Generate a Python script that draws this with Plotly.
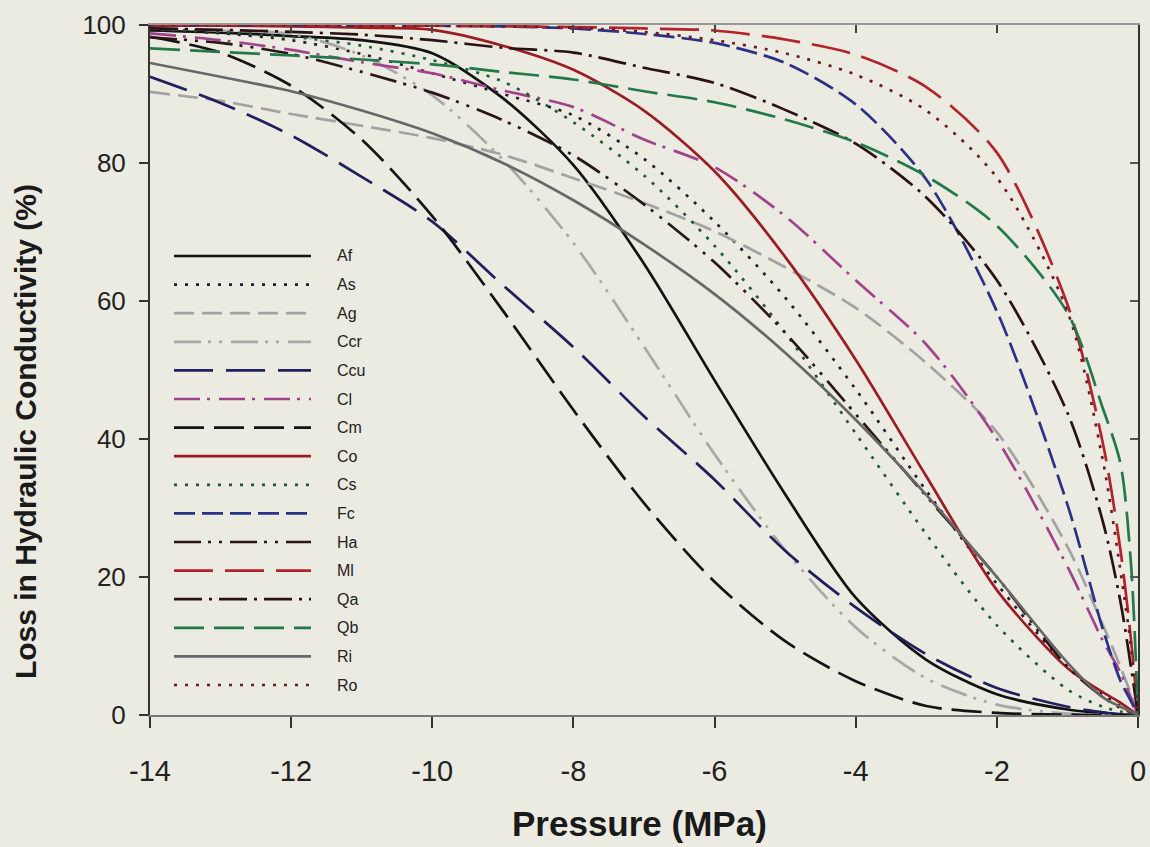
import plotly.graph_objects as go

# Pressure (MPa) at which values were read
pressure = [-14, -13, -12, -11, -10, -9, -8, -7, -6, -5, -4, -3, -2, -1, -0.5, -0.25, -0.1, 0]

species = ["Af", "As", "Ag", "Ccr", "Ccu", "Cl", "Cm", "Co", "Cs", "Fc", "Ha", "Ml", "Qa", "Qb", "Ri", "Ro"]

Af = [99.2, 98.9, 98.4, 97.8, 95.9, 89.4, 79.7, 65.4, 48.5, 32.0, 17.0, 8.0, 3.0, 0.8, 0.3, 0.1, 0.05, 0]
As = [99.3, 98.8, 97.8, 95.8, 93.0, 90.0, 86.9, 80.6, 71.5, 60.5, 47.2, 32.5, 19.0, 7.0, 3.0, 1.3, 0.5, 0]
Ag = [90.3, 89.0, 87.1, 85.4, 83.6, 81.2, 77.8, 74.2, 70.1, 64.9, 59.0, 51.0, 41.0, 24.4, 13.1, 7.0, 3.0, 0]
Ccr = [99.5, 99.2, 98.7, 95.6, 89.8, 80.5, 68.4, 53.4, 37.8, 23.9, 12.7, 5.3, 1.5, 0.2, 0.05, 0.0, 0.0, 0]
Ccu = [92.5, 88.7, 84.0, 78.0, 71.5, 62.3, 53.3, 43.3, 34.1, 23.8, 15.6, 8.8, 3.9, 1.2, 0.4, 0.1, 0.02, 0]
Cl = [98.8, 97.8, 96.4, 94.6, 93.0, 90.5, 88.1, 83.4, 79.4, 72.3, 63.0, 53.7, 40.0, 21.5, 10.8, 6.2, 2.5, 0]
Cm = [98.3, 96.0, 91.2, 83.4, 72.3, 58.6, 44.2, 30.7, 19.3, 10.7, 4.9, 1.3, 0.3, 0.05, 0.0, 0.0, 0.0, 0]
Co = [99.9, 99.9, 99.8, 99.6, 99.3, 97.0, 93.5, 87.6, 78.8, 66.4, 51.5, 34.6, 18.1, 6.8, 3.3, 1.8, 0.7, 0]
Cs = [99.5, 99.0, 98.3, 97.0, 94.9, 91.8, 85.9, 78.2, 68.0, 55.4, 40.8, 26.2, 13.0, 3.7, 1.2, 0.5, 0.2, 0]
Fc = [100, 100, 100, 99.9, 99.9, 99.8, 99.5, 98.7, 97.4, 94.5, 88.5, 77.6, 58.5, 30.5, 12.5, 5.0, 2.0, 0]
Ha = [98.2, 97.4, 95.8, 93.2, 90.2, 86.2, 81.1, 74.0, 65.6, 55.4, 43.6, 31.7, 20.0, 7.0, 2.6, 1.0, 0.4, 0]
Ml = [100, 100, 100, 99.9, 99.9, 99.8, 99.7, 99.5, 99.2, 97.9, 95.7, 91.0, 81.5, 59.5, 39.5, 24.0, 11.0, 0]
Qa = [99.5, 99.3, 99.0, 98.6, 97.8, 96.7, 96.0, 93.8, 91.6, 87.7, 82.8, 75.0, 63.0, 43.8, 28.1, 16.5, 7.0, 0]
Qb = [96.6, 96.1, 95.6, 95.0, 94.3, 93.2, 92.1, 90.4, 88.8, 86.3, 83.0, 78.1, 70.9, 58.3, 44.5, 36.5, 22.0, 0]
Ri = [94.5, 92.5, 90.4, 87.6, 84.3, 80.0, 74.6, 68.2, 61.0, 52.5, 42.8, 31.9, 20.0, 7.6, 2.6, 1.2, 0.5, 0]
Ro = [100, 100, 100, 99.9, 99.9, 99.8, 99.6, 99.0, 97.8, 95.9, 92.8, 87.6, 77.9, 58.5, 37.0, 21.0, 10.0, 0]

series = [Af, As, Ag, Ccr, Ccu, Cl, Cm, Co, Cs, Fc, Ha, Ml, Qa, Qb, Ri, Ro]

colors = ["#121212", "#2a1c30", "#a2a2a2", "#a8a8a8", "#20205e", "#a3428c", "#141414", "#9c1c24",
          "#1f5a3c", "#2b3184", "#2a1616", "#b3232c", "#2b1014", "#23794a", "#676767", "#6c1a22"]
dashes = ["solid", "3px,8px", "20px,8px", "27px,7px,3px,8px,3px,9px", "39px,13px", "26px,7px,3px,9px",
          "30px,10px", "solid", "3px,8px", "21px,7px", "27px,7px,3px,8px,3px,8px", "39px,12px",
          "28px,7px,3px,7px", "30px,10px", "solid", "3px,8px"]

BG = "#ebebe1"
fig = go.Figure()

for name, ys, col, ds in zip(species, series, colors, dashes):
    fig.add_trace(go.Scatter(
        x=pressure, y=ys, name=name, mode="lines",
        line=dict(color=col, width=2.7, dash=ds, shape="spline", smoothing=0.8),
        showlegend=False,
    ))

# dummy trace so the mirrored (top/right) tick axes are drawn
fig.add_trace(go.Scatter(x=[], y=[], xaxis="x2", yaxis="y2", showlegend=False))

xt = [-14, -12, -10, -8, -6, -4, -2, 0]
xt_text = ["-14", "-12", "-10", "-8", "-6", "-4", "-2", "0"]
yt = [0, 20, 40, 60, 80, 100]

fig.update_layout(
    width=1150, height=847,
    margin=dict(l=150, r=12, t=25, b=132, autoexpand=False),
    paper_bgcolor=BG, plot_bgcolor=BG,
    showlegend=False,
    xaxis=dict(range=[-14, 0], tickvals=xt, ticktext=xt_text, ticks="outside", ticklen=11,
               tickwidth=1.5, tickcolor="#333", showline=True, linecolor="#777", linewidth=2,
               showgrid=False, zeroline=False, ticklabelstandoff=18, automargin=False,
               tickfont=dict(family="Liberation Sans Narrow, Arial Narrow, Liberation Sans, Arial",
                             size=29, color="#222")),
    yaxis=dict(range=[0, 100], tickvals=yt, ticks="outside", ticklen=9, tickwidth=1.5,
               tickcolor="#333", showline=True, linecolor="#333", linewidth=2, automargin=False,
               showgrid=False, zeroline=False, ticklabelstandoff=8,
               tickfont=dict(family="Liberation Sans, Arial", size=26, color="#222")),
    xaxis2=dict(range=[-14, 0], overlaying="x", side="top", tickvals=xt, ticks="inside",
                ticklen=8, tickwidth=1.5, tickcolor="#444", showticklabels=False, automargin=False,
                showline=True, linecolor="#999", linewidth=2, showgrid=False, zeroline=False),
    yaxis2=dict(range=[0, 100], overlaying="y", side="right", tickvals=yt, ticks="inside",
                ticklen=8, tickwidth=1.5, tickcolor="#555", showticklabels=False, automargin=False,
                showline=True, linecolor="#333", linewidth=2, showgrid=False, zeroline=False),
)

# axis titles
fig.add_annotation(text="<b>Pressure (MPa)</b>", xref="paper", yref="paper",
                   x=0.495, y=(715 - 823) / 690.0, xanchor="center", yanchor="middle",
                   showarrow=False,
                   font=dict(family="Liberation Sans, Arial", size=35, color="#1a1a1a"))
fig.add_annotation(text="<b>Loss in Hydraulic Conductivity (%)</b>", xref="paper", yref="paper",
                   x=-0.1265, y=0.41, xanchor="center", yanchor="middle", textangle=-90,
                   showarrow=False,
                   font=dict(family="Liberation Sans, Arial", size=30, color="#1a1a1a"))

# legend drawn inside the plot area (paper coordinates)
plot_w, plot_h = 988.0, 690.0
for i, (name, col, ds) in enumerate(zip(species, colors, dashes)):
    py = 256 + i * 28.6
    yp = (715 - py) / plot_h
    fig.add_shape(type="line", xref="paper", yref="paper",
                  x0=(174 - 150) / plot_w, x1=(311 - 150) / plot_w, y0=yp, y1=yp,
                  line=dict(color=col, width=2.7, dash=ds))
    fig.add_annotation(text=name, xref="paper", yref="paper", x=(335 - 150) / plot_w, y=yp,
                       xanchor="left", yanchor="middle", showarrow=False,
                       font=dict(family="Liberation Sans, Arial", size=16, color="#222"))

post = ("var s=document.body.style;s.margin='0';s.padding='0';s.overflow='hidden';"
        "s.background='" + BG + "';document.documentElement.style.overflow='hidden';")
fig.write_html("out.html", config={"displayModeBar": False}, post_script=post)
